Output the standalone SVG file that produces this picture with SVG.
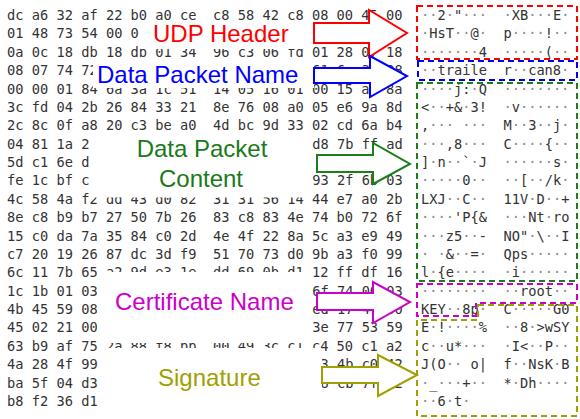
<svg xmlns="http://www.w3.org/2000/svg" width="580" height="419" viewBox="0 0 580 419">
<style>
.hx{font-family:"DejaVu Sans Mono","Liberation Mono",monospace;font-size:13.7px;fill:#333;white-space:pre}
.d{fill:#8a8a8a}
.lb{font-family:"Liberation Sans",Arial,sans-serif;font-size:24px}
.bg{fill:#fff}
.arr{fill:#fff;stroke-width:2;stroke-linejoin:miter}
.box{fill:none;stroke-width:2;stroke-dasharray:6 4}
</style>
<rect width="580" height="419" fill="#fff"/>
<g id="hex">
<text class="hx" x="7" y="20">dc a6 32 af 22 b0 a0 ce  c8 58 42 c8 08 00 45 00</text>
<text class="hx" x="7" y="38.4">01 48 73 54 00 0</text>
<text class="hx" x="7" y="56.7">0a 0c 18 db 18 db 01 34  96 c3 06 fd 01 28 07 18</text>
<text class="hx" x="7" y="75.1">08 07 74 72</text>
<text class="hx" x="312.2" y="75.1">61 6e 38 08</text>
<text class="hx" x="7" y="93.5">00 00 01 84 6a 3a 1c 51  14 05 16 01 00 15 a8 8a</text>
<text class="hx" x="7" y="111.9">3c fd 04 2b 26 84 33 21  8e 76 08 a0 05 e6 9a 8d</text>
<text class="hx" x="7" y="130.2">2c 8c 0f a8 20 c3 be a0  4d bc 9d 33 02 cd 6a b4</text>
<text class="hx" x="7" y="148.6">04 81 1a 2c</text>
<text class="hx" x="312.2" y="148.6">d8 7b ff ad</text>
<text class="hx" x="7" y="167">5d c1 6e d9</text>
<text class="hx" x="7" y="185.4">fe 1c bf c4</text>
<text class="hx" x="312.2" y="185.4">93 2f 6b 03</text>
<text class="hx" x="7" y="203.7">4c 58 4a f2 dd 43 d0 82  31 31 56 14 44 e7 a0 2b</text>
<text class="hx" x="7" y="222.1">8e c8 b9 b7 27 50 7b 26  83 c8 83 4e 74 b0 72 6f</text>
<text class="hx" x="7" y="240.5">15 c0 da 7a 35 84 c0 2d  4e 4f 22 8a 5c a3 e9 49</text>
<text class="hx" x="7" y="258.9">c7 20 19 26 87 dc 3d f9  51 70 73 d0 9b a3 f0 99</text>
<text class="hx" x="7" y="277.2">6c 11 7b 65 a2 9d e3 1e  dd 69 0b d1 12 ff df 16</text>
<text class="hx" x="7" y="295.6">1c 1b 01 03</text>
<text class="hx" x="312.2" y="295.6">6f 74 00 03</text>
<text class="hx" x="7" y="314">4b 45 59 08</text>
<text class="hx" x="312.2" y="314">ed 17 47 30</text>
<text class="hx" x="7" y="332.4">45 02 21 00</text>
<text class="hx" x="312.2" y="332.4">3e 77 53 59</text>
<text class="hx" x="7" y="350.7">63 b9 af 75 2a 88 f8 bb  00 49 3c c1 c4 50 c1 a2</text>
<text class="hx" x="7" y="369.1">4a 28 4f 99</text>
<text class="hx" x="312.2" y="369.1">73 4b c0 42</text>
<text class="hx" x="7" y="387.5">ba 5f 04 d3</text>
<text class="hx" x="312.2" y="387.5">88 cb 7f 02</text>
<text class="hx" x="7" y="405.9">b8 f2 36 d1</text>
</g>
<g id="ascii">
<text class="hx" x="421" y="20"><tspan class="d">··</tspan>2<tspan class="d">·</tspan>"<tspan class="d">···</tspan>  <tspan class="d">·</tspan>XB<tspan class="d">···</tspan>E<tspan class="d">·</tspan></text>
<text class="hx" x="421" y="38.4"><tspan class="d">·</tspan>HsT<tspan class="d">··</tspan>@<tspan class="d">·</tspan>  p<tspan class="d">····</tspan>!<tspan class="d">··</tspan></text>
<text class="hx" x="421" y="56.7"><tspan class="d">·······</tspan>4  <tspan class="d">·····</tspan>(<tspan class="d">··</tspan></text>
<text class="hx" x="421" y="75.1"><tspan class="d">··</tspan>traile  r<tspan class="d">··</tspan>can8<tspan class="d">·</tspan></text>
<text class="hx" x="421" y="93.5"><tspan class="d">····</tspan>j:<tspan class="d">·</tspan>Q  <tspan class="d">········</tspan></text>
<text class="hx" x="421" y="111.9">&lt;<tspan class="d">··</tspan>+&amp;<tspan class="d">·</tspan>3!  <tspan class="d">·</tspan>v<tspan class="d">······</tspan></text>
<text class="hx" x="421" y="130.2">,<tspan class="d">···</tspan> <tspan class="d">···</tspan>  M<tspan class="d">··</tspan>3<tspan class="d">··</tspan>j<tspan class="d">·</tspan></text>
<text class="hx" x="421" y="148.6"><tspan class="d">···</tspan>,8<tspan class="d">···</tspan>  C<tspan class="d">····</tspan>{<tspan class="d">··</tspan></text>
<text class="hx" x="421" y="167">]<tspan class="d">·</tspan>n<tspan class="d">··</tspan>`<tspan class="d">·</tspan>J  <tspan class="d">······</tspan>s<tspan class="d">·</tspan></text>
<text class="hx" x="421" y="185.4"><tspan class="d">·····</tspan>0<tspan class="d">··</tspan>  <tspan class="d">··</tspan>[<tspan class="d">··</tspan>/k<tspan class="d">·</tspan></text>
<text class="hx" x="421" y="203.7">LXJ<tspan class="d">··</tspan>C<tspan class="d">··</tspan>  11V<tspan class="d">·</tspan>D<tspan class="d">··</tspan>+</text>
<text class="hx" x="421" y="222.1"><tspan class="d">····</tspan>'P{&amp;  <tspan class="d">···</tspan>Nt<tspan class="d">·</tspan>ro</text>
<text class="hx" x="421" y="240.5"><tspan class="d">···</tspan>z5<tspan class="d">··</tspan>-  NO"<tspan class="d">·</tspan>\<tspan class="d">··</tspan>I</text>
<text class="hx" x="421" y="258.9"><tspan class="d">·</tspan> <tspan class="d">·</tspan>&amp;<tspan class="d">··</tspan>=<tspan class="d">·</tspan>  Qps<tspan class="d">·····</tspan></text>
<text class="hx" x="421" y="277.2">l<tspan class="d">·</tspan>{e<tspan class="d">····</tspan>  <tspan class="d">·</tspan>i<tspan class="d">······</tspan></text>
<text class="hx" x="421" y="295.6"><tspan class="d">········</tspan>  <tspan class="d">··</tspan>root<tspan class="d">··</tspan></text>
<text class="hx" x="421" y="314">KEY<tspan class="d">··</tspan>8p<tspan class="d">·</tspan>  C<tspan class="d">·····</tspan>G0</text>
<text class="hx" x="421" y="332.4">E<tspan class="d">·</tspan>!<tspan class="d">····</tspan>%  <tspan class="d">··</tspan>8<tspan class="d">·</tspan>&gt;wSY</text>
<text class="hx" x="421" y="350.7">c<tspan class="d">··</tspan>u*<tspan class="d">···</tspan>  <tspan class="d">·</tspan>I&lt;<tspan class="d">··</tspan>P<tspan class="d">··</tspan></text>
<text class="hx" x="421" y="369.1">J(O<tspan class="d">··</tspan> o|  f<tspan class="d">··</tspan>NsK<tspan class="d">·</tspan>B</text>
<text class="hx" x="421" y="387.5"><tspan class="d">·</tspan>_<tspan class="d">···</tspan>+<tspan class="d">··</tspan>  *<tspan class="d">·</tspan>Dh<tspan class="d">····</tspan></text>
<text class="hx" x="421" y="405.9"><tspan class="d">··</tspan>6<tspan class="d">·</tspan>t<tspan class="d">·</tspan></text>
</g>
<g id="boxes">
<rect class="box" x="417" y="6" width="160" height="53" stroke="#ff0000"/>
<rect class="box" x="418" y="61" width="159" height="19" stroke="#0000ff"/>
<rect class="box" x="417" y="83" width="160" height="198" stroke="#1a7f1a"/>
<path class="box" d="M417,284 H577 V303 H476 V316 H417 Z" stroke="#cc00cc"/>
<path class="box" d="M478,305 H577 V416 H417 V320 H478 Z" stroke="#a0a000"/>
</g>
<g id="udp-header">
<rect class="bg" x="139" y="22" width="174" height="27"/>
<text class="lb" x="153" y="42" fill="#ff0000">UDP Header</text>
</g>
<g id="data-packet-name">
<rect class="bg" x="93" y="59" width="221" height="29"/>
<text class="lb" x="97" y="83" fill="#0000ff">Data Packet Name</text>
</g>
<g id="data-packet-content">
<rect class="bg" x="90" y="133" width="215" height="64.5"/>
<text class="lb" x="202" y="157" fill="#1a7a1a" text-anchor="middle">Data Packet</text>
<text class="lb" x="201" y="187" fill="#1a7a1a" text-anchor="middle">Content</text>
</g>
<g id="certificate-name">
<rect class="bg" x="97" y="272" width="212" height="71"/>
<text class="lb" x="115" y="310" fill="#cc00cc">Certificate Name</text>
</g>
<g id="signature">
<rect class="bg" x="98" y="348" width="224" height="71"/>
<text class="lb" x="158" y="386" fill="#a0a000">Signature</text>
</g>
<g id="connectors">
<polygon class="arr" stroke="#ff0000" points="314,23 369,23 369,10 407,33 369,57 369,43 314,43"/>
<polygon class="arr" stroke="#0000ff" points="314,68 370,68 370,56 407,76 370,97 370,83 314,83"/>
<polygon class="arr" stroke="#1a7f1a" points="317,155 373,155 373,143 410,164 373,184 373,172 317,172"/>
<polygon class="arr" stroke="#cc00cc" points="317,293 373,293 373,282 410,302 373,323 373,310 317,310"/>
<polygon class="arr" stroke="#a0a000" points="322,367 378,367 378,355 417,375 378,396 378,383 322,383"/>
</g>
</svg>
